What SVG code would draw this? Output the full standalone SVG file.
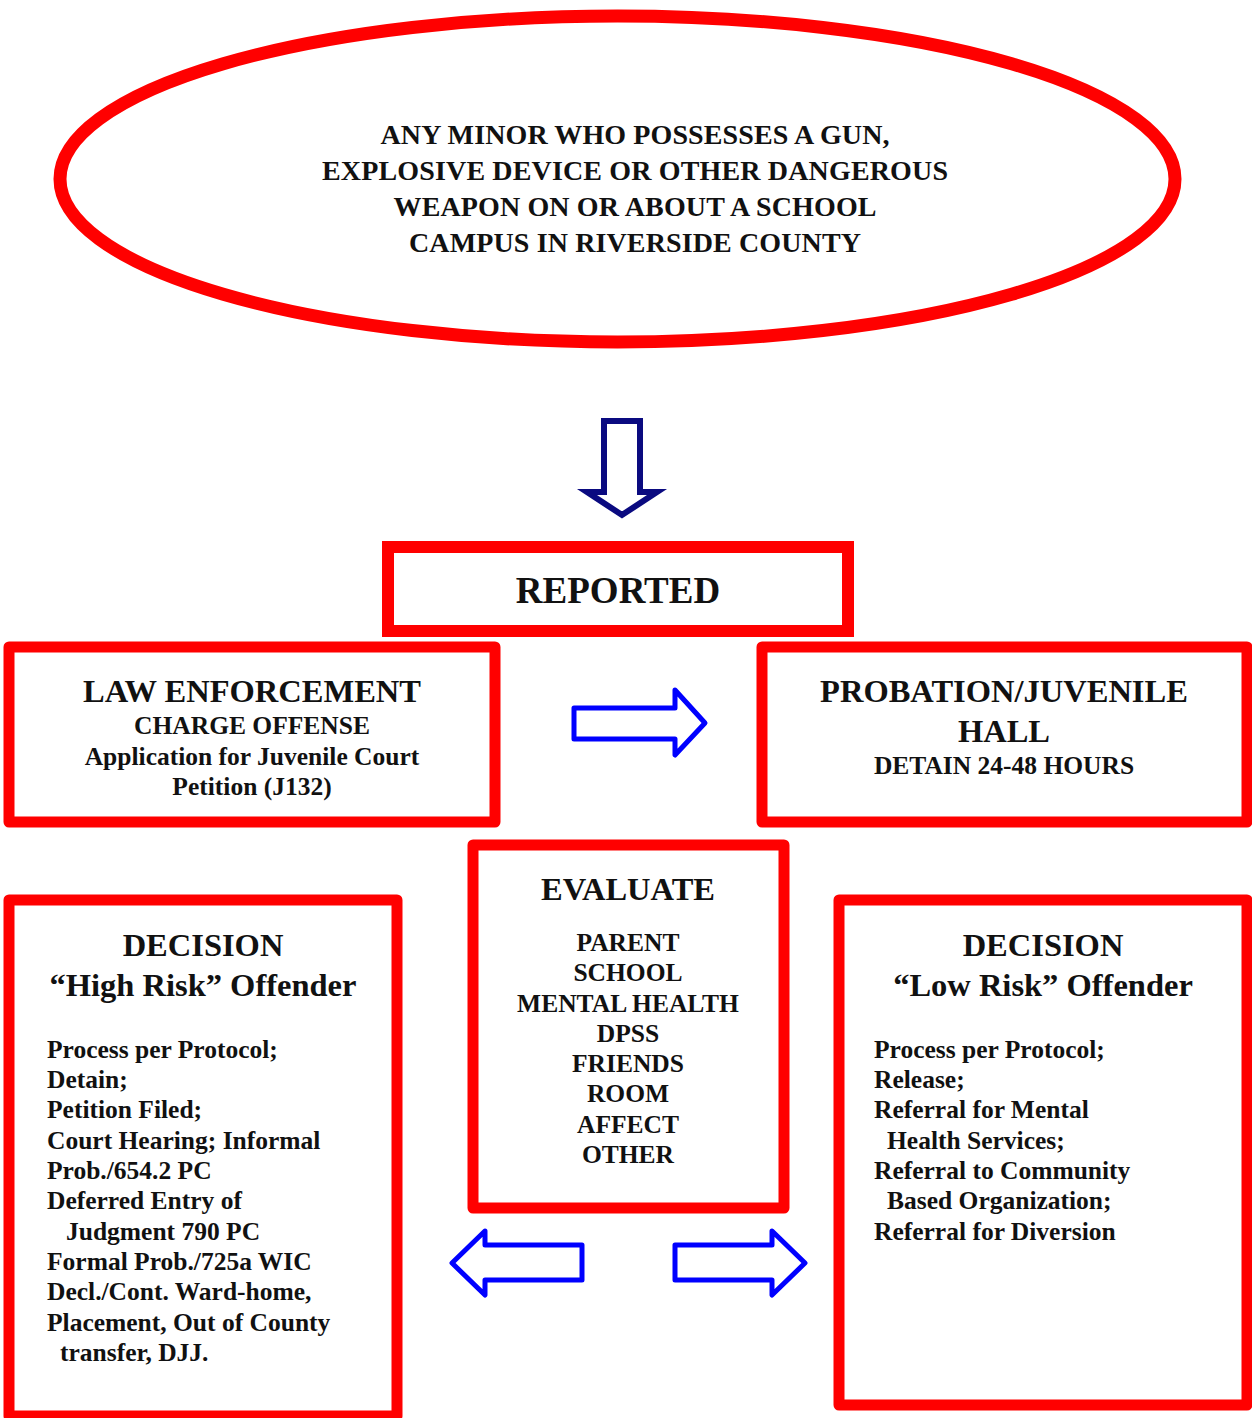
<svg xmlns="http://www.w3.org/2000/svg" width="1252" height="1418" viewBox="0 0 1252 1418">
<style>
  text { font-family: "Liberation Serif", "Times New Roman", serif; font-weight: bold; fill: #111; }
  .c { text-anchor: middle; }
  .t { font-size: 32.5px; }
  .b { font-size: 25.5px; }
  .e { font-size: 28px; }
  .box { fill: #fff; stroke: #ff0000; stroke-width: 11; stroke-linejoin: round; }
  .blue { fill: #fff; stroke: #0000ff; stroke-width: 5; stroke-linejoin: round; }
</style>
<rect width="1252" height="1418" fill="#fff"/>

<g id="start">
  <ellipse cx="617.5" cy="179" rx="557.5" ry="163" fill="#fff" stroke="#ff0000" stroke-width="13"/>
  <text class="e c" x="635" y="144" textLength="509">ANY MINOR WHO POSSESSES A GUN,</text>
  <text class="e c" x="635" y="180" textLength="626">EXPLOSIVE DEVICE OR OTHER DANGEROUS</text>
  <text class="e c" x="635" y="216" textLength="483">WEAPON ON OR ABOUT A SCHOOL</text>
  <text class="e c" x="635" y="252" textLength="452">CAMPUS IN RIVERSIDE COUNTY</text>
</g>

<g id="reported">
  <rect x="388" y="547" width="460" height="84" fill="#fff" stroke="#ff0000" stroke-width="12"/>
  <text class="c" x="618" y="603" style="font-size:37px">REPORTED</text>
</g>

<g id="law-enforcement">
  <rect class="box" x="9" y="647" width="486" height="175"/>
  <text class="t c" x="252" y="702">LAW ENFORCEMENT</text>
  <text class="b c" x="252" y="734">CHARGE OFFENSE</text>
  <text class="b c" x="252" y="765">Application for Juvenile Court</text>
  <text class="b c" x="252" y="795">Petition (J132)</text>
</g>

<g id="probation">
  <rect class="box" x="762" y="647" width="485" height="175"/>
  <text class="t c" x="1004" y="702">PROBATION/JUVENILE</text>
  <text class="t c" x="1004" y="742">HALL</text>
  <text class="b c" x="1004" y="774">DETAIN 24-48 HOURS</text>
</g>

<g id="evaluate">
  <rect class="box" x="473" y="845" width="311" height="363"/>
  <text class="t c" x="628" y="900">EVALUATE</text>
  <text class="b c" x="628" y="951">PARENT</text>
  <text class="b c" x="628" y="981">SCHOOL</text>
  <text class="b c" x="628" y="1012">MENTAL HEALTH</text>
  <text class="b c" x="628" y="1042">DPSS</text>
  <text class="b c" x="628" y="1072">FRIENDS</text>
  <text class="b c" x="628" y="1102">ROOM</text>
  <text class="b c" x="628" y="1133">AFFECT</text>
  <text class="b c" x="628" y="1163">OTHER</text>
</g>

<g id="high-risk">
  <rect class="box" x="9" y="900" width="388" height="516"/>
  <text class="t c" x="203" y="956">DECISION</text>
  <text class="t c" x="203" y="996">“High Risk” Offender</text>
  <text class="b" x="47" y="1058">Process per Protocol;</text>
  <text class="b" x="47" y="1088">Detain;</text>
  <text class="b" x="47" y="1118">Petition Filed;</text>
  <text class="b" x="47" y="1149">Court Hearing; Informal</text>
  <text class="b" x="47" y="1179">Prob./654.2 PC</text>
  <text class="b" x="47" y="1209">Deferred Entry of</text>
  <text class="b" x="66" y="1240">Judgment 790 PC</text>
  <text class="b" x="47" y="1270">Formal Prob./725a WIC</text>
  <text class="b" x="47" y="1300">Decl./Cont. Ward-home,</text>
  <text class="b" x="47" y="1331">Placement, Out of County</text>
  <text class="b" x="60" y="1361">transfer, DJJ.</text>
</g>

<g id="low-risk">
  <rect class="box" x="839" y="900" width="408" height="505"/>
  <text class="t c" x="1043" y="956">DECISION</text>
  <text class="t c" x="1043" y="996">“Low Risk” Offender</text>
  <text class="b" x="874" y="1058">Process per Protocol;</text>
  <text class="b" x="874" y="1088">Release;</text>
  <text class="b" x="874" y="1118">Referral for Mental</text>
  <text class="b" x="887" y="1149">Health Services;</text>
  <text class="b" x="874" y="1179">Referral to Community</text>
  <text class="b" x="887" y="1209">Based Organization;</text>
  <text class="b" x="874" y="1240">Referral for Diversion</text>
</g>

<g id="connectors">
  <path d="M604,421 L640,421 L640,492 L657,492 L622,515 L587,492 L604,492 Z" fill="#fff" stroke="#0a0a80" stroke-width="6" stroke-linejoin="miter"/>
  <path class="blue" d="M574,708 L675,708 L675,690 L705,723 L675,755 L675,739 L574,739 Z"/>
  <path class="blue" d="M582,1245 L485,1245 L485,1231 L452,1263 L485,1295 L485,1280 L582,1280 Z"/>
  <path class="blue" d="M675,1245 L772,1245 L772,1231 L805,1263 L772,1295 L772,1280 L675,1280 Z"/>
</g>
</svg>
